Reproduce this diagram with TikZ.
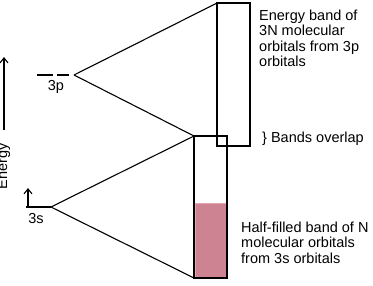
\documentclass[tikz,border=0pt]{standalone}
\usepackage{fontspec}
\setmainfont{Liberation Sans}
\usetikzlibrary{arrows.meta}
\definecolor{fillpink}{RGB}{205,131,145}
\definecolor{edgepink}{RGB}{234,164,178}
\begin{document}
\begin{tikzpicture}[x=1pt,y=-1pt,
  band/.style={draw, line width=1.8pt, minimum width=33pt, inner sep=0pt, outer sep=0pt, anchor=north west},
  link/.style={line width=1.1pt},
  lbl/.style={font=\fontsize{14.5}{15.4}\selectfont, inner sep=0pt, align=left, anchor=north west},
  barb/.style={-{Straight Barb[length=5pt,width=8pt]}, line width=1.1pt}]
\clip (0,0) rectangle (373,285);
% filled half of the 3s band
\draw[draw=edgepink, fill=fillpink, line width=1pt] (195.5,203.5) rectangle (226,277.5);
% bands
\node[band, minimum height=143pt] (pband) at (217,3) {};
\node[band, minimum height=142pt] (sband) at (194,136) {};
% atomic levels
\coordinate (ptip) at (74,75);
\coordinate (stip) at (51,207);
\coordinate (pstart) at (37,75);
\coordinate (sstart) at (26,207);
\coordinate (sarrowtop) at (28,188);
\coordinate (sarrowbot) at (28,207);
\coordinate (ebot) at (4,130);
\coordinate (etop) at (4,57);
\draw[link, dash pattern=on 16pt off 4pt on 12pt off 10pt] (pstart) -- (ptip);
\draw[link] (sstart) -- (stip);
\draw[barb] (sarrowbot) -- (sarrowtop);
\draw[barb] (ebot) -- (etop);
% fan lines
\draw[link] (ptip) -- (pband.north west);
\draw[link] (ptip) -- (sband.north west);
\draw[link] (stip) -- (sband.north west);
\draw[link] (stip) -- (sband.south west);
% labels
\node[lbl, anchor=base] (l3p) at (56,90) {3p};
\node[lbl, anchor=base] (l3s) at (36,223) {3s};
\node[lbl, rotate=90, anchor=base] (energy) at (7,166.5) {Energy};
\node[lbl] (ptext) at (259,9.6) {Energy band of\\3N molecular\\orbitals from 3p\\orbitals};
\node[lbl, anchor=base west] (overlap) at (262,142) {\} Bands overlap};
\node[lbl] (stext) at (241,221.6) {Half-filled band of N\\molecular orbitals\\from 3s orbitals};
\end{tikzpicture}
\end{document}
